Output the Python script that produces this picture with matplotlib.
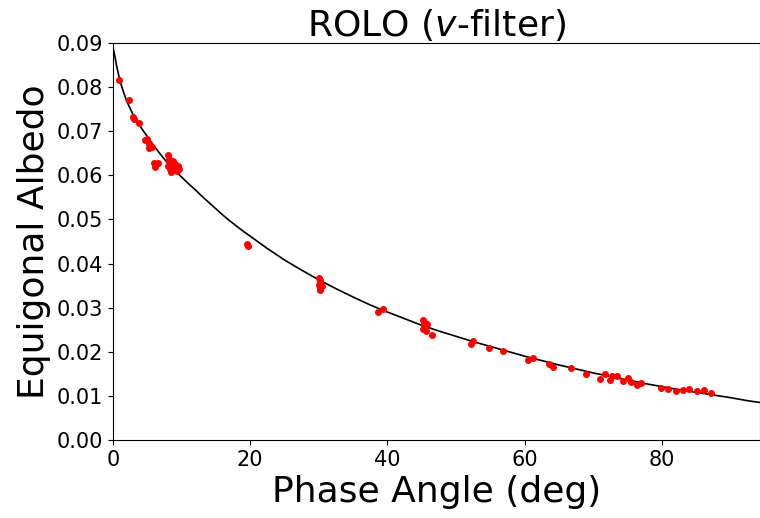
import matplotlib
matplotlib.use("Agg")
import matplotlib.pyplot as plt

# observed points (phase angle deg, equigonal albedo)
phase = [0.85, 2.26, 2.9, 3.0, 3.76, 4.6, 5.0, 5.3, 5.3, 5.7,
         6.0, 6.3, 6.6, 6.1,
         8.0, 8.1, 8.2, 8.0, 8.3, 8.5, 8.6, 8.8, 8.9, 9.0, 9.2, 9.3, 9.5, 9.6, 8.4,
         19.6, 19.7,
         30.0, 30.1, 30.2, 30.0, 30.3, 30.1, 30.4, 30.2,
         38.6, 39.4,
         45.2, 45.4, 45.6, 45.3, 45.8, 45.5, 45.2, 45.6, 46.5,
         52.2, 52.4, 54.8, 56.8, 60.5, 61.2, 63.5, 64.2, 66.8, 69.0,
         71.0, 71.7, 72.4, 72.8, 73.4, 74.3, 75.1, 75.5, 76.3, 76.9,
         79.9, 80.9, 82.0, 83.1, 84.0, 85.1, 86.2, 87.2]
albedo = [0.0816, 0.0770, 0.0732, 0.0727, 0.0719, 0.0680, 0.0683, 0.0661, 0.0670, 0.0665,
          0.0628, 0.0625, 0.0628, 0.0620,
          0.0645, 0.0638, 0.0630, 0.0622, 0.0615, 0.0627, 0.0620, 0.0633, 0.0612, 0.0625,
          0.0618, 0.0610, 0.0622, 0.0615, 0.0608,
          0.0445, 0.0440,
          0.0368, 0.0362, 0.0357, 0.0352, 0.0348, 0.0344, 0.0350, 0.0340,
          0.0290, 0.0296,
          0.0272, 0.0268, 0.0264, 0.0260, 0.0262, 0.0256, 0.0252, 0.0248, 0.0239,
          0.0218, 0.0224, 0.0209, 0.0202, 0.0181, 0.0187, 0.0172, 0.0166, 0.0163, 0.0150,
          0.0139, 0.0149, 0.0136, 0.0144, 0.0144, 0.0134, 0.0140, 0.0131, 0.0125, 0.0130,
          0.0117, 0.0116, 0.0112, 0.0113, 0.0116, 0.0110, 0.0113, 0.0107]

# model curve
curve_phase = [0, 0.25, 0.5, 1, 1.5, 2, 3, 4, 5, 6, 7, 8, 9, 10, 11, 12, 13, 14, 15,
               16, 17, 18, 19, 20, 22.5, 25, 27.5, 30, 32.5, 35, 37.5, 40, 42.5, 45,
               47.5, 50, 52.5, 55, 57.5, 60, 62.5, 65, 67.5, 70, 72.5, 75, 77.5, 80,
               82.5, 85, 87.5, 90, 92.5, 94.3]
curve_albedo = [0.0890, 0.0872, 0.0850, 0.0815, 0.0790, 0.0768, 0.0735, 0.0710, 0.0688,
                0.0666, 0.0646, 0.0627, 0.0611, 0.0596, 0.0581, 0.0567, 0.0552, 0.0538,
                0.0524, 0.0510, 0.0497, 0.0485, 0.0473, 0.0462, 0.0434, 0.0408, 0.0385,
                0.0363, 0.0343, 0.0324, 0.0306, 0.0290, 0.0275, 0.0260, 0.0247, 0.0235,
                0.0223, 0.0212, 0.0201, 0.0190, 0.0180, 0.0170, 0.0161, 0.0152, 0.0144,
                0.0136, 0.0128, 0.0121, 0.0114, 0.0108, 0.0102, 0.0096, 0.0089, 0.0085]

fig = plt.figure(figsize=(7.6, 5.18), dpi=100)
ax = fig.add_axes([0.1487, 0.1506, 0.8513, 0.7664])

ax.plot(curve_phase, curve_albedo, color="black", lw=1.2, zorder=2)
ax.plot(phase, albedo, "o", color="red", ms=4, zorder=3)

ax.set_xlim(0, 94.3)
ax.set_ylim(0, 0.09)
ax.set_xticks([0, 20, 40, 60, 80])
ax.set_yticks([0.00, 0.01, 0.02, 0.03, 0.04, 0.05, 0.06, 0.07, 0.08, 0.09])
ax.set_yticklabels(["0.00", "0.01", "0.02", "0.03", "0.04", "0.05", "0.06", "0.07", "0.08", "0.09"])
ax.tick_params(labelsize=15)

ax.set_xlabel("Phase Angle (deg)", fontsize=26)
ax.set_ylabel("Equigonal Albedo", fontsize=26)
ax.set_title("ROLO ($v$-filter)", fontsize=26, pad=4)

fig.savefig("out.png", dpi=100)
